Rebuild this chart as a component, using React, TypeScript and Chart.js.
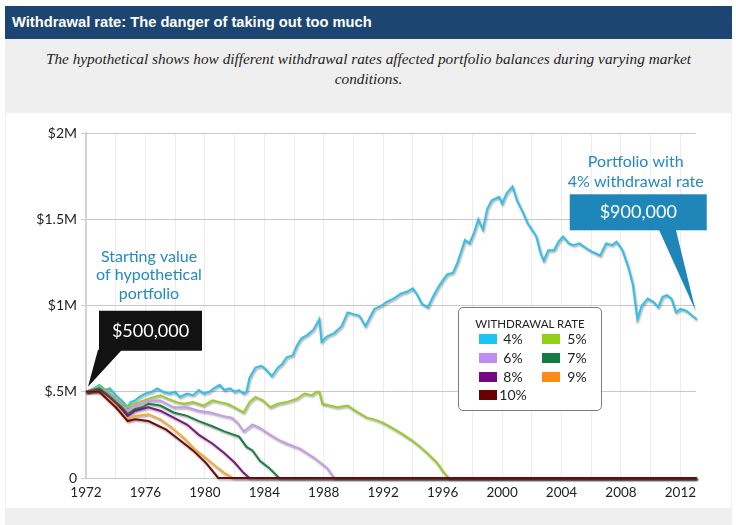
import React, { useEffect, useRef } from "react";
import { Chart, registerables } from "chart.js";

Chart.register(...registerables);

// ---------- data ----------
const years4 = [
  1972.0, 1972.5, 1972.9, 1973.3, 1973.6, 1974.0, 1974.4, 1974.8, 1975.0, 1975.3, 1975.6, 1976.0,
  1976.4, 1976.8, 1977.2, 1977.6, 1978.0, 1978.3, 1978.8, 1979.2, 1979.6, 1979.9, 1980.3, 1980.6,
  1981.0, 1981.3, 1981.7, 1982.0, 1982.3, 1982.6, 1982.8, 1983.0, 1983.4, 1983.8, 1984.1, 1984.5,
  1984.9, 1985.2, 1985.5, 1985.9, 1986.2, 1986.5, 1986.9, 1987.3, 1987.7, 1987.85, 1988.2, 1988.7,
  1989.2, 1989.6, 1990.0, 1990.4, 1990.8, 1991.1, 1991.4, 1991.9, 1992.2, 1992.7, 1993.2, 1993.6,
  1994.0, 1994.3, 1994.6, 1995.0, 1995.4, 1995.8, 1996.3, 1996.7, 1997.0, 1997.5, 1997.8, 1998.1,
  1998.4, 1998.7, 1999.0, 1999.3, 1999.8, 2000.0, 2000.3, 2000.7, 2001.0, 2001.4, 2001.7, 2002.0,
  2002.3, 2002.6, 2002.8, 2003.1, 2003.5, 2003.8, 2004.1, 2004.5, 2004.8, 2005.2, 2005.7, 2006.1,
  2006.6, 2007.0, 2007.4, 2007.7, 2008.1, 2008.5, 2008.8, 2009.1, 2009.4, 2009.8, 2010.2, 2010.5,
  2010.8, 2011.1, 2011.4, 2011.7, 2012.0, 2012.4, 2012.8, 2013.1,
];
const balance4 = [
  0.50, 0.52, 0.54, 0.51, 0.52, 0.48, 0.45, 0.41, 0.44, 0.45, 0.47, 0.49,
  0.50, 0.52, 0.50, 0.49, 0.50, 0.47, 0.49, 0.48, 0.51, 0.49, 0.50, 0.52,
  0.54, 0.51, 0.52, 0.50, 0.51, 0.49, 0.50, 0.58, 0.64, 0.65, 0.63, 0.59,
  0.64, 0.66, 0.70, 0.71, 0.77, 0.81, 0.83, 0.86, 0.92, 0.79, 0.82, 0.84,
  0.88, 0.96, 0.95, 0.94, 0.88, 0.93, 0.98, 1.00, 1.02, 1.04, 1.07, 1.08,
  1.10, 1.06, 1.01, 0.99, 1.06, 1.12, 1.18, 1.19, 1.25, 1.38, 1.36, 1.42,
  1.50, 1.44, 1.56, 1.61, 1.63, 1.59, 1.65, 1.69, 1.61, 1.54, 1.48, 1.44,
  1.40, 1.30, 1.26, 1.32, 1.32, 1.37, 1.40, 1.36, 1.35, 1.36, 1.33, 1.31,
  1.29, 1.36, 1.35, 1.37, 1.32, 1.22, 1.12, 0.92, 1.00, 1.04, 1.02, 0.99,
  1.05, 1.06, 1.04, 0.96, 0.98, 0.97, 0.94, 0.92,
];

const years5 = [
  1972.0, 1972.9, 1973.5, 1974.0, 1974.4, 1974.8, 1975.2, 1975.6, 1976.2, 1977.0, 1977.5, 1978.1,
  1978.6, 1979.2, 1979.9, 1980.5, 1981.0, 1981.5, 1982.0, 1982.6, 1983.0, 1983.4, 1983.9, 1984.4,
  1984.9, 1985.5, 1986.2, 1986.7, 1987.2, 1987.5, 1987.7, 1987.9, 1988.4, 1988.9, 1989.6, 1990.3,
  1990.9, 1991.4, 1992.0, 1992.6, 1993.2, 1993.9, 1994.5, 1995.0, 1995.6, 1996.0, 1996.4, 2013.1,
];
const balance5 = [
  0.50, 0.53, 0.50, 0.46, 0.43, 0.41, 0.43, 0.44, 0.46, 0.48, 0.46, 0.44,
  0.43, 0.44, 0.42, 0.45, 0.44, 0.43, 0.41, 0.38, 0.44, 0.47, 0.45, 0.41,
  0.43, 0.44, 0.46, 0.49, 0.48, 0.50, 0.50, 0.43, 0.42, 0.41, 0.42, 0.38,
  0.35, 0.34, 0.32, 0.29, 0.26, 0.22, 0.18, 0.14, 0.09, 0.04, 0.0, 0.0,
];

const years6 = [
  1972.0, 1972.9, 1973.5, 1974.0, 1974.4, 1974.8, 1975.3, 1975.8, 1976.2, 1977.0, 1977.9, 1978.8,
  1979.6, 1980.4, 1981.2, 1981.8, 1982.2, 1982.6, 1983.2, 1983.7, 1984.4, 1985.0, 1985.5, 1986.4,
  1987.3, 1988.2, 1988.7, 2013.1,
];
const balance6 = [
  0.50, 0.52, 0.49, 0.45, 0.42, 0.39, 0.42, 0.43, 0.45, 0.45, 0.41, 0.41,
  0.39, 0.38, 0.36, 0.35, 0.32, 0.27, 0.31, 0.29, 0.25, 0.22, 0.20, 0.17,
  0.12, 0.06, 0.0, 0.0,
];

const years7 = [
  1972.0, 1972.9, 1973.5, 1974.0, 1974.4, 1974.8, 1975.3, 1975.8, 1976.2, 1977.0, 1977.9, 1978.8,
  1979.6, 1980.5, 1981.3, 1982.3, 1982.8, 1983.2, 1983.7, 1984.3, 1985.0, 2013.1,
];
const balance7 = [
  0.50, 0.52, 0.48, 0.44, 0.41, 0.37, 0.40, 0.41, 0.43, 0.42, 0.38, 0.36,
  0.33, 0.30, 0.27, 0.24, 0.18, 0.16, 0.10, 0.06, 0.0, 0.0,
];

const years8 = [
  1972.0, 1972.9, 1973.5, 1974.0, 1974.4, 1974.8, 1975.3, 1976.2, 1977.0, 1977.9, 1978.8, 1979.6,
  1980.5, 1981.3, 1982.0, 1982.6, 1983.0, 2013.1,
];
const balance8 = [
  0.50, 0.51, 0.47, 0.43, 0.40, 0.36, 0.39, 0.41, 0.39, 0.35, 0.31, 0.25,
  0.20, 0.145, 0.09, 0.03, 0.0, 0.0,
];

const years9 = [
  1972.0, 1972.9, 1973.5, 1974.0, 1974.4, 1974.8, 1975.3, 1976.2, 1977.0, 1977.8, 1978.6, 1979.4,
  1980.0, 1980.7, 1981.3, 1981.9, 2013.1,
];
const balance9 = [
  0.50, 0.50, 0.46, 0.42, 0.38, 0.34, 0.36, 0.37, 0.34, 0.29, 0.23, 0.16,
  0.12, 0.07, 0.03, 0.0, 0.0,
];

const years10 = [
  1972.0, 1972.9, 1973.5, 1974.0, 1974.4, 1974.8, 1975.3, 1976.2, 1977.4, 1978.3, 1979.2, 1980.1,
  1980.9, 2013.1,
];
const balance10 = [
  0.50, 0.50, 0.45, 0.41, 0.37, 0.33, 0.34, 0.33, 0.28, 0.22, 0.16, 0.085,
  0.0, 0.0,
];

const rateLabels = ["4%", "5%", "6%", "7%", "8%", "9%", "10%"];
const lineColors = ["#33bfe9", "#9bca2c", "#c79be9", "#1e7d47", "#7a1a80", "#f4aa35", "#6c0b0b"];
const swatchColors = ["#1ec3f4", "#8fd117", "#c08cf2", "#127b42", "#72087f", "#ff8a1c", "#6b0000"];

const yTickValues = [0, 0.5, 1, 1.5, 2];
const yTickLabels = ["0", "$.5M", "$1M", "$1.5M", "$2M"];
const xGridYears = [
  1972, 1974, 1976, 1978, 1980, 1982, 1984, 1986, 1988, 1990, 1992,
  1994, 1996, 1998, 2000, 2002, 2004, 2006, 2008, 2010, 2012,
];
const xLabelYears = [1972, 1976, 1980, 1984, 1988, 1992, 1996, 2000, 2004, 2008, 2012];

const startValueLabel = "$500,000";
const endValueLabel = "$900,000";
const startNote = ["Starting value", "of hypothetical", "portfolio"];
const endNote = ["Portfolio with", "4% withdrawal rate"];

const seriesYears = [years4, years5, years6, years7, years8, years9, years10];
const seriesValues = [balance4, balance5, balance6, balance7, balance8, balance9, balance10];

const FONT = "Lato, 'Open Sans', sans-serif";
const NOTE_BLUE = "#2489c2";

const lineShadow = {
  id: "lineShadow",
  beforeDatasetDraw(chart: any) {
    const ctx = chart.ctx;
    ctx.save();
    ctx.shadowColor = "rgba(0,0,0,0.35)";
    ctx.shadowBlur = 2;
    ctx.shadowOffsetX = 1;
    ctx.shadowOffsetY = 1.5;
  },
  afterDatasetDraw(chart: any) {
    chart.ctx.restore();
  },
};

const callouts = {
  id: "callouts",
  afterDatasetsDraw(chart: any) {
    const { ctx, scales } = chart;
    const x = scales.x;
    const y = scales.y;
    const sx = x.getPixelForValue(years4[0]);
    const sy = y.getPixelForValue(balance4[0]);
    const ex = x.getPixelForValue(years4[years4.length - 1]);
    const ey = y.getPixelForValue(balance4[balance4.length - 1]);
    ctx.save();

    // start callout (black)
    ctx.fillStyle = "#121212";
    ctx.beginPath();
    ctx.moveTo(sx + 12, sy - 42);
    ctx.lineTo(sx + 36, sy - 42);
    ctx.lineTo(sx + 2, sy - 5);
    ctx.closePath();
    ctx.fill();
    ctx.fillRect(sx + 13, sy - 81, 103, 40);
    ctx.fillStyle = "#ffffff";
    ctx.font = `18px ${FONT}`;
    ctx.textAlign = "center";
    ctx.textBaseline = "middle";
    ctx.fillText(startValueLabel, sx + 64.5, sy - 61);

    ctx.fillStyle = NOTE_BLUE;
    ctx.font = `16px ${FONT}`;
    startNote.forEach((line, i) => ctx.fillText(line, sx + 63, sy - 135 + i * 18.5));

    // end callout (blue)
    ctx.fillStyle = "#1f86b9";
    ctx.beginPath();
    ctx.moveTo(ex - 38, ey - 90);
    ctx.lineTo(ex - 21, ey - 90);
    ctx.lineTo(ex - 1, ey - 8);
    ctx.closePath();
    ctx.fill();
    ctx.fillRect(ex - 127, ey - 125, 137, 36);
    ctx.fillStyle = "#ffffff";
    ctx.font = `18px ${FONT}`;
    ctx.fillText(endValueLabel, ex - 58.5, ey - 107);

    ctx.fillStyle = NOTE_BLUE;
    ctx.font = `16px ${FONT}`;
    endNote.forEach((line, i) => ctx.fillText(line, ex - 61, ey - 157 + i * 20));

    ctx.restore();
  },
};

function Legend() {
  const cols = [21, 84];
  const labelCenters = [55, 119];
  const rows = [32, 51, 70, 88];
  return (
    <div
      style={{
        position: "absolute",
        left: 458,
        top: 307,
        width: 144,
        height: 104,
        boxSizing: "border-box",
        border: "1px solid #7c7c7c",
        borderRadius: 5,
        background: "#fff",
        fontFamily: FONT,
        color: "#222",
      }}
    >
      <div
        style={{
          position: "absolute",
          left: 0,
          width: 142,
          top: 8,
          textAlign: "center",
          fontSize: 11.5,
          lineHeight: "16px",
          whiteSpace: "nowrap",
        }}
      >
        WITHDRAWAL RATE
      </div>
      {rateLabels.map((lab, i) => {
        const c = i % 2;
        const r = Math.floor(i / 2);
        return (
          <React.Fragment key={lab}>
            <div
              style={{
                position: "absolute",
                left: cols[c] - 1,
                top: rows[r] - 5 - 1,
                width: 18,
                height: 10,
                background: swatchColors[i],
              }}
            />
            <div
              style={{
                position: "absolute",
                left: labelCenters[c] - 1 - 20,
                width: 40,
                top: rows[r] - 9 - 1,
                textAlign: "center",
                fontSize: 14,
                lineHeight: "18px",
              }}
            >
              {lab}
            </div>
          </React.Fragment>
        );
      })}
    </div>
  );
}

export default function App() {
  const canvasRef = useRef<HTMLCanvasElement | null>(null);

  useEffect(() => {
    const canvas = canvasRef.current;
    if (!canvas) return;
    const order = [6, 5, 4, 3, 2, 1, 0]; // 10% drawn on top
    const datasets = order.map((i) => ({
      label: rateLabels[i],
      data: seriesYears[i].map((t, k) => ({ x: t, y: seriesValues[i][k] })),
      borderColor: lineColors[i],
      backgroundColor: lineColors[i],
      borderWidth: 2,
      pointRadius: 0,
      tension: 0,
      fill: false,
      clip: 6,
    }));

    const chart = new Chart(canvas, {
      type: "line",
      data: { datasets },
      options: {
        animation: false,
        responsive: false,
        events: [],
        layout: { padding: { top: 20, right: 36, left: 0, bottom: 0 } },
        plugins: {
          legend: { display: false },
          tooltip: { enabled: false },
          title: { display: false },
        },
        scales: {
          x: {
            type: "linear",
            min: 1972,
            max: 2013.05,
            afterBuildTicks: (axis: any) => {
              axis.ticks = xGridYears.map((v) => ({ value: v }));
            },
            afterFit: (axis: any) => {
              axis.height = 30;
            },
            ticks: {
              autoSkip: false,
              maxRotation: 0,
              padding: 7,
              color: "#222",
              font: { family: FONT, size: 13.5 },
              callback: (v: any) => {
                const n = Math.round(Number(v));
                return xLabelYears.includes(n) ? String(n) : "";
              },
            },
            grid: { color: "#ececec", lineWidth: 1, drawTicks: false },
            border: { display: true, color: "#c8c8c8", width: 1 },
          },
          y: {
            type: "linear",
            min: 0,
            max: 2,
            afterFit: (axis: any) => {
              axis.width = 81;
            },
            ticks: {
              stepSize: 0.5,
              padding: 4,
              color: "#222",
              font: { family: FONT, size: 14 },
              callback: (v: any) => {
                const idx = yTickValues.findIndex((t) => Math.abs(t - Number(v)) < 1e-6);
                return idx >= 0 ? yTickLabels[idx] : "";
              },
            },
            grid: { color: "#c9c9c9", lineWidth: 1, tickLength: 5 },
            border: { display: true, color: "#d2d2d2", width: 2 },
          },
        },
      },
      plugins: [lineShadow, callouts],
    } as any);

    return () => chart.destroy();
  }, []);

  return (
    <div
      style={{
        position: "absolute",
        left: 0,
        top: 0,
        width: 736,
        height: 525,
        background: "#fff",
        overflow: "hidden",
      }}
    >
      <div
        style={{
          position: "absolute",
          left: 5,
          top: 6,
          width: 727,
          height: 33,
          background: "#1d4571",
          color: "#fff",
          fontFamily: "'Liberation Sans', Arial, sans-serif",
          fontWeight: "bold",
          fontSize: 14.7,
          lineHeight: "33px",
          paddingLeft: 7,
          boxSizing: "border-box",
          whiteSpace: "nowrap",
        }}
      >
        Withdrawal rate: The danger of taking out too much
      </div>
      <div
        style={{
          position: "absolute",
          left: 5,
          top: 39,
          width: 727,
          height: 486,
          background: "#efefef",
        }}
      />
      <div
        style={{
          position: "absolute",
          left: 5,
          top: 49,
          width: 727,
          textAlign: "center",
          fontFamily: "'Liberation Serif', 'Times New Roman', serif",
          fontStyle: "italic",
          fontSize: 15.3,
          lineHeight: "20px",
          color: "#1e1e1e",
          whiteSpace: "nowrap",
        }}
      >
        The hypothetical shows how different withdrawal rates affected portfolio balances during varying market
        <br />
        conditions.
      </div>
      <div
        style={{
          position: "absolute",
          left: 6,
          top: 113,
          width: 725,
          height: 395,
          background: "#fff",
        }}
      />
      <canvas
        ref={canvasRef}
        width={727}
        height={395}
        style={{ position: "absolute", left: 5, top: 113, width: 727, height: 395 }}
      />
      <Legend />
    </div>
  );
}
